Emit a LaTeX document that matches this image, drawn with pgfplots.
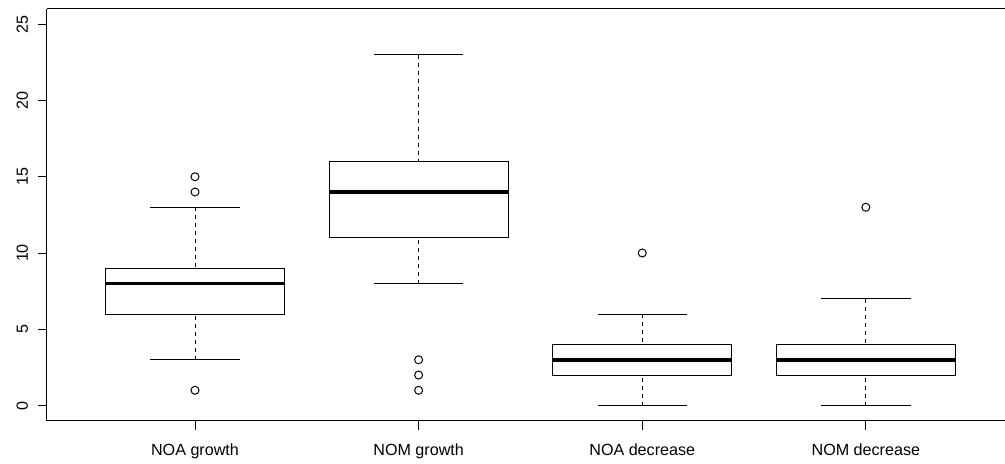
\documentclass[border=0pt]{standalone}
\usepackage{fontspec}
\setmainfont{Liberation Sans}
\usepackage{pgfplots}
\pgfplotsset{compat=1.18}
\usepgfplotslibrary{statistics}
\begin{document}
\begin{tikzpicture}
\begin{axis}[
  scale only axis,
  width=718.5pt, height=309pt,
  xmin=0.338, xmax=4.62,
  ymin=-1, ymax=26,
  axis x line*=bottom, axis y line*=left,
  axis line style={line width=0.75pt, black},
  clip=false,
  xtick={1,2,3,4},
  xticklabels={NOA growth, NOM growth, NOA decrease, NOM decrease},
  ytick={0,5,10,15,20,25},
  tick align=outside,
  major tick length=6.75pt,
  tick style={line width=0.75pt, black},
  /pgf/number format/assume math mode=true,
  tick label style={font=\fontsize{12.1}{14}\selectfont},
  yticklabel style={rotate=90, anchor=south},
  xticklabel style={anchor=north},
  xticklabel shift=7pt,
  yticklabel shift=4pt,
  boxplot/draw direction=y,
  boxplot/box extend=0.8,
  boxplot/whisker extend=0.4,
  boxplot/every median/.style={line width=2.6pt},
  boxplot/every whisker/.style={line width=0.75pt},
  boxplot/every box/.style={line width=0.75pt},
  boxplot/draw/lower whisker/.code={
    \draw[/pgfplots/boxplot/every whisker/.try, dash pattern=on 3pt off 3pt]
      (boxplot cs:\pgfplotsboxplotvalue{lower whisker}) -- (boxplot cs:\pgfplotsboxplotvalue{lower quartile});
    \draw[/pgfplots/boxplot/every whisker/.try]
      (boxplot whisker cs:\pgfplotsboxplotvalue{lower whisker},0) -- (boxplot whisker cs:\pgfplotsboxplotvalue{lower whisker},1);
  },
  boxplot/draw/upper whisker/.code={
    \draw[/pgfplots/boxplot/every whisker/.try, dash pattern=on 3pt off 3pt]
      (boxplot cs:\pgfplotsboxplotvalue{upper whisker}) -- (boxplot cs:\pgfplotsboxplotvalue{upper quartile});
    \draw[/pgfplots/boxplot/every whisker/.try]
      (boxplot whisker cs:\pgfplotsboxplotvalue{upper whisker},0) -- (boxplot whisker cs:\pgfplotsboxplotvalue{upper whisker},1);
  },
]
\addplot[black, mark=o, mark size=3pt, mark options={solid, line width=0.75pt},
  boxplot prepared={draw position=1, lower whisker=3, lower quartile=6, median=8, upper quartile=9, upper whisker=13}]
  coordinates {(1,15) (1,14) (1,1)};
\addplot[black, mark=o, mark size=3pt, mark options={solid, line width=0.75pt},
  boxplot prepared={draw position=2, lower whisker=8, lower quartile=11, median=14, upper quartile=16, upper whisker=23}]
  coordinates {(2,3) (2,2) (2,1)};
\addplot[black, mark=o, mark size=3pt, mark options={solid, line width=0.75pt},
  boxplot prepared={draw position=3, lower whisker=0, lower quartile=2, median=3, upper quartile=4, upper whisker=6}]
  coordinates {(3,10)};
\addplot[black, mark=o, mark size=3pt, mark options={solid, line width=0.75pt},
  boxplot prepared={draw position=4, lower whisker=0, lower quartile=2, median=3, upper quartile=4, upper whisker=7}]
  coordinates {(4,13)};
\draw[line width=0.75pt] (rel axis cs:0,1) -- (rel axis cs:1,1);
\path (rel axis cs:-0.04906,-0.0971) rectangle (rel axis cs:1,1.02184);
\end{axis}
\end{tikzpicture}
\end{document}
